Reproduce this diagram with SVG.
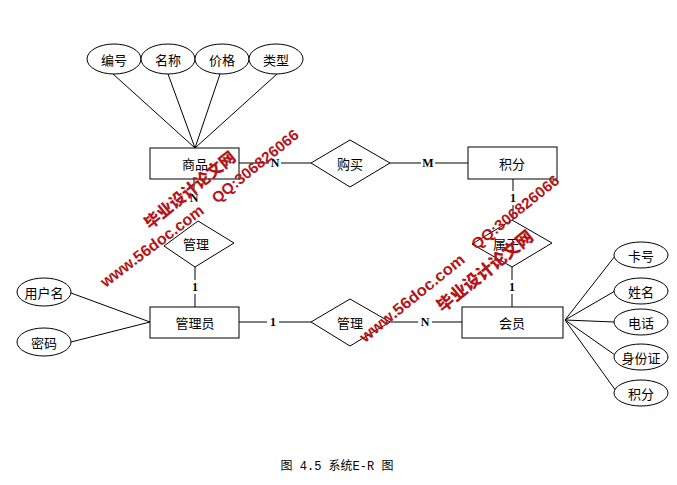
<svg xmlns="http://www.w3.org/2000/svg" width="677" height="485" viewBox="0 0 677 485">
<style>
.sh{fill:#fff;stroke:#000;stroke-width:1}
.ln{stroke:#000;stroke-width:1;fill:none}
.t{font-family:"Noto Sans CJK SC","Noto Sans CJK JP",sans-serif;font-size:13px;fill:#000;text-anchor:middle;dominant-baseline:central}
.c{font-family:"Liberation Serif",serif;font-size:12px;font-weight:bold;fill:#000;text-anchor:middle;dominant-baseline:central}
.cap{font-family:"Liberation Mono","Noto Sans CJK SC",monospace;font-size:12px;fill:#000;text-anchor:middle;dominant-baseline:central}
.wm{font-family:"Liberation Sans","Noto Sans CJK SC",sans-serif;font-weight:bold;fill:#b3161a;text-anchor:middle;dominant-baseline:central}
.wc{font-family:"Noto Sans CJK SC",sans-serif;font-weight:900;fill:#b3161a;text-anchor:middle;dominant-baseline:central}
</style>
<rect width="677" height="485" fill="#fff"/>
<g id="connectors">
<line class="ln" x1="113" y1="74" x2="195" y2="148"/>
<line class="ln" x1="168" y1="74" x2="195" y2="148"/>
<line class="ln" x1="220" y1="74" x2="195" y2="148"/>
<line class="ln" x1="277" y1="74" x2="195" y2="148"/>
<line class="ln" x1="239" y1="163" x2="269" y2="163"/>
<line class="ln" x1="281" y1="163" x2="311" y2="163"/>
<line class="ln" x1="390" y1="163" x2="421" y2="163"/>
<line class="ln" x1="435" y1="163" x2="468" y2="163"/>
<line class="ln" x1="513" y1="179" x2="513" y2="191"/>
<line class="ln" x1="513" y1="205" x2="513" y2="220"/>
<line class="ln" x1="512" y1="267" x2="512" y2="280"/>
<line class="ln" x1="512" y1="294" x2="512" y2="307"/>
<line class="ln" x1="194" y1="179" x2="194" y2="189"/>
<line class="ln" x1="195" y1="267" x2="195" y2="280"/>
<line class="ln" x1="195" y1="294" x2="195" y2="307"/>
<line class="ln" x1="239" y1="322" x2="267" y2="322"/>
<line class="ln" x1="279" y1="322" x2="311" y2="322"/>
<line class="ln" x1="390" y1="322" x2="418" y2="322"/>
<line class="ln" x1="432" y1="322" x2="462" y2="322"/>
<line class="ln" x1="71" y1="293" x2="150" y2="322"/>
<line class="ln" x1="71" y1="342" x2="150" y2="322"/>
<line class="ln" x1="565" y1="320" x2="615" y2="256"/>
<line class="ln" x1="565" y1="320" x2="615" y2="291"/>
<line class="ln" x1="565" y1="320" x2="614" y2="322"/>
<line class="ln" x1="565" y1="320" x2="615" y2="355"/>
<line class="ln" x1="565" y1="320" x2="616" y2="391"/>
<text class="c" x="275" y="163">N</text>
<text class="c" x="428" y="163">M</text>
<text class="c" x="513" y="198">1</text>
<text class="c" x="512" y="287">1</text>
<text class="c" x="194" y="198" font-weight="normal">N</text>
<text class="c" x="195" y="287">1</text>
<text class="c" x="273" y="322">1</text>
<text class="c" x="425" y="322">N</text>
</g>
<g id="attr-bianhao"><ellipse class="sh" cx="114" cy="59" rx="27" ry="15"/><text class="t" x="114" y="59">编号</text></g>
<g id="attr-mingcheng"><ellipse class="sh" cx="168" cy="59" rx="27" ry="15"/><text class="t" x="168" y="59">名称</text></g>
<g id="attr-jiage"><ellipse class="sh" cx="222" cy="59" rx="27" ry="15"/><text class="t" x="222" y="59">价格</text></g>
<g id="attr-leixing"><ellipse class="sh" cx="276" cy="59" rx="27" ry="15"/><text class="t" x="276" y="59">类型</text></g>
<g id="ent-shangpin"><rect class="sh" x="150" y="148" width="89" height="31"/><text class="t" x="195" y="163">商品</text></g>
<g id="rel-goumai"><polygon class="sh" points="311,163 350,140 390,163 350,187"/><text class="t" x="350" y="163">购买</text></g>
<g id="ent-jifen"><rect class="sh" x="468" y="147" width="89" height="32"/><text class="t" x="512" y="163">积分</text></g>
<g id="rel-guanli1"><polygon class="sh" points="164,246 198,221 234,243 195,267"/><text class="t" x="196" y="243">管理</text></g>
<g id="rel-shuyu"><polygon class="sh" points="472,244 512,220 552,243 512,267"/><text class="t" x="506" y="243">属于</text></g>
<g id="ent-guanliyuan"><rect class="sh" x="150" y="307" width="89" height="31"/><text class="t" x="195" y="322">管理员</text></g>
<g id="rel-guanli2"><polygon class="sh" points="311,322 350,299 390,322 350,346"/><text class="t" x="350" y="322">管理</text></g>
<g id="ent-huiyuan"><rect class="sh" x="462" y="307" width="101" height="31"/><text class="t" x="512" y="322">会员</text></g>
<g id="attr-yonghuming"><ellipse class="sh" cx="44" cy="292" rx="27" ry="14"/><text class="t" x="44" y="292">用户名</text></g>
<g id="attr-mima"><ellipse class="sh" cx="44" cy="342" rx="27" ry="14"/><text class="t" x="44" y="342">密码</text></g>
<g id="attr-kahao"><ellipse class="sh" cx="641" cy="255" rx="27" ry="13"/><text class="t" x="641" y="255">卡号</text></g>
<g id="attr-xingming"><ellipse class="sh" cx="641" cy="291" rx="27" ry="13"/><text class="t" x="641" y="291">姓名</text></g>
<g id="attr-dianhua"><ellipse class="sh" cx="641" cy="322" rx="27" ry="13"/><text class="t" x="641" y="322">电话</text></g>
<g id="attr-shenfenzheng"><ellipse class="sh" cx="641" cy="357" rx="27" ry="13"/><text class="t" x="641" y="357">身份证</text></g>
<g id="attr-jifen2"><ellipse class="sh" cx="641" cy="393" rx="27" ry="13"/><text class="t" x="641" y="393">积分</text></g>
<text class="cap" x="337" y="467">图 4.5 系统E-R 图</text>
<g id="watermarks">
<text class="wc" font-size="16" transform="translate(189,189) rotate(-39)" textLength="112" lengthAdjust="spacingAndGlyphs">毕业设计论文网</text>
<text class="wm" font-size="16" transform="translate(152,246) rotate(-37)" textLength="125" lengthAdjust="spacingAndGlyphs">www.56doc.com</text>
<text class="wm" font-size="15" font-weight="normal" transform="translate(255,166) rotate(-39)" textLength="107" lengthAdjust="spacingAndGlyphs">QQ:306826066</text>
<text class="wm" font-size="16" transform="translate(412,298) rotate(-39)" textLength="130" lengthAdjust="spacingAndGlyphs">www.56doc.com</text>
<text class="wc" font-size="17" transform="translate(484,270) rotate(-39)" textLength="118" lengthAdjust="spacingAndGlyphs">毕业设计论文网</text>
<text class="wm" font-size="15" font-weight="normal" transform="translate(515,212) rotate(-39)" textLength="108" lengthAdjust="spacingAndGlyphs">QQ:306826066</text>
</g>
</svg>
